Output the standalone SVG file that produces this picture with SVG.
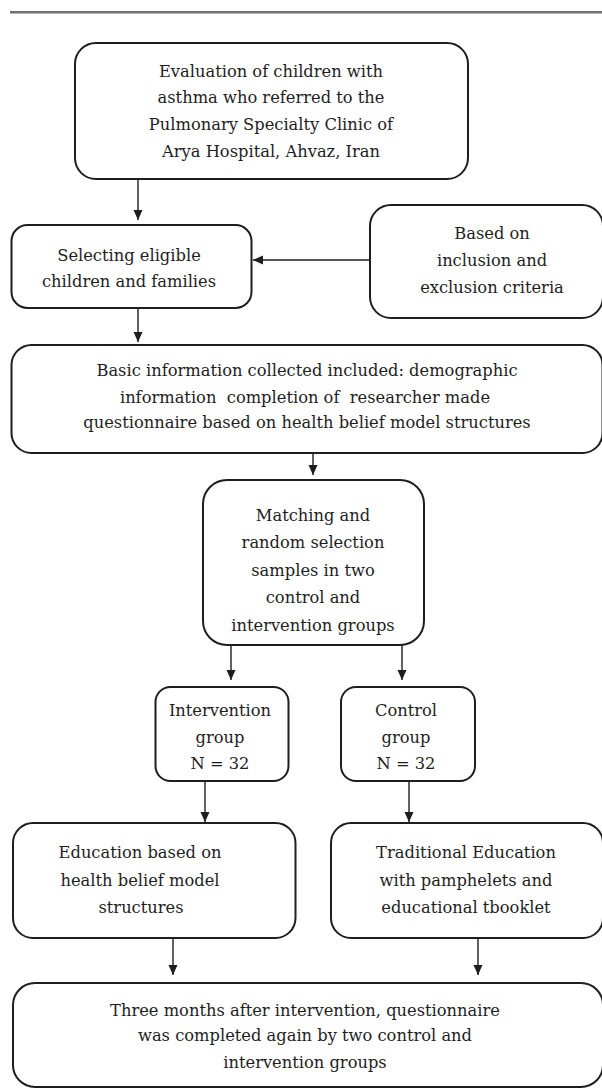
<svg xmlns="http://www.w3.org/2000/svg" width="602" height="1089" viewBox="0 0 602 1089">
<style>
.box{fill:#fff;stroke:#1e1e1e;stroke-width:2}
.t{font-family:"DejaVu Serif","Liberation Serif",serif;font-size:16.3px;fill:#1e1e1e;text-anchor:middle}
.c{stroke:#1e1e1e;stroke-width:1.4;fill:none;marker-end:url(#ah)}
</style>
<defs>
<marker id="ah" markerUnits="userSpaceOnUse" markerWidth="10" markerHeight="10" refX="10" refY="4.5" orient="auto">
<path d="M0,0 L10,4.5 L0,9 z" fill="#1e1e1e"/>
</marker>
</defs>
<rect x="10" y="11" width="592" height="2.5" fill="#707070"/>
<g id="connectors">
<line class="c" x1="138" y1="179" x2="138" y2="220"/>
<line class="c" x1="370" y1="260" x2="253" y2="260"/>
<line class="c" x1="138" y1="308" x2="138" y2="342"/>
<line class="c" x1="313" y1="453" x2="313" y2="475"/>
<line class="c" x1="231" y1="645" x2="231" y2="680"/>
<line class="c" x1="402" y1="645" x2="402" y2="680"/>
<line class="c" x1="205" y1="781" x2="205" y2="822"/>
<line class="c" x1="409" y1="781" x2="409" y2="822"/>
<line class="c" x1="173" y1="938" x2="173" y2="975"/>
<line class="c" x1="478" y1="938" x2="478" y2="975"/>
</g>
<g id="n1">
<rect class="box" x="75" y="43" width="393" height="136" rx="21"/>
<text class="t" x="271" y="77">Evaluation of children with</text>
<text class="t" x="271" y="103">asthma who referred to the</text>
<text class="t" x="271" y="130">Pulmonary Specialty Clinic of</text>
<text class="t" x="271" y="157">Arya Hospital, Ahvaz, Iran</text>
</g>
<g id="n2">
<rect class="box" x="11.5" y="225" width="240" height="83" rx="16"/>
<text class="t" x="129" y="261">Selecting eligible</text>
<text class="t" x="129" y="287">children and families</text>
</g>
<g id="n3">
<rect class="box" x="370" y="205" width="233" height="113" rx="21"/>
<text class="t" x="492" y="239">Based on</text>
<text class="t" x="492" y="266">inclusion and</text>
<text class="t" x="492" y="293">exclusion criteria</text>
</g>
<g id="n4">
<rect class="box" x="11.5" y="345" width="591" height="108" rx="20"/>
<text class="t" x="307" y="376">Basic information collected included: demographic</text>
<text class="t" x="305" y="403" xml:space="preserve">information  completion of  researcher made</text>
<text class="t" x="307" y="428">questionnaire based on health belief model structures</text>
</g>
<g id="n5">
<rect class="box" x="203" y="480" width="221" height="165" rx="24"/>
<text class="t" x="313" y="521">Matching and</text>
<text class="t" x="313" y="548">random selection</text>
<text class="t" x="313" y="576">samples in two</text>
<text class="t" x="313" y="603">control and</text>
<text class="t" x="313" y="631">intervention groups</text>
</g>
<g id="n6">
<rect class="box" x="155.5" y="687" width="133" height="94" rx="15"/>
<text class="t" x="220" y="716">Intervention</text>
<text class="t" x="220" y="743">group</text>
<text class="t" x="220" y="769">N = 32</text>
</g>
<g id="n7">
<rect class="box" x="341" y="687" width="134" height="94" rx="15"/>
<text class="t" x="406" y="716">Control</text>
<text class="t" x="406" y="743">group</text>
<text class="t" x="406" y="769">N = 32</text>
</g>
<g id="n8">
<rect class="box" x="13" y="823" width="282.5" height="115" rx="20"/>
<text class="t" x="140" y="858">Education based on</text>
<text class="t" x="140" y="886">health belief model</text>
<text class="t" x="141" y="913">structures</text>
</g>
<g id="n9">
<rect class="box" x="331" y="823" width="272" height="115" rx="20"/>
<text class="t" x="466" y="858">Traditional Education</text>
<text class="t" x="466" y="886">with pamphelets and</text>
<text class="t" x="466" y="913">educational tbooklet</text>
</g>
<g id="n10">
<rect class="box" x="13" y="983" width="590" height="104" rx="22"/>
<text class="t" x="305" y="1016">Three months after intervention, questionnaire</text>
<text class="t" x="305" y="1041">was completed again by two control and</text>
<text class="t" x="305" y="1068">intervention groups</text>
</g>
</svg>
